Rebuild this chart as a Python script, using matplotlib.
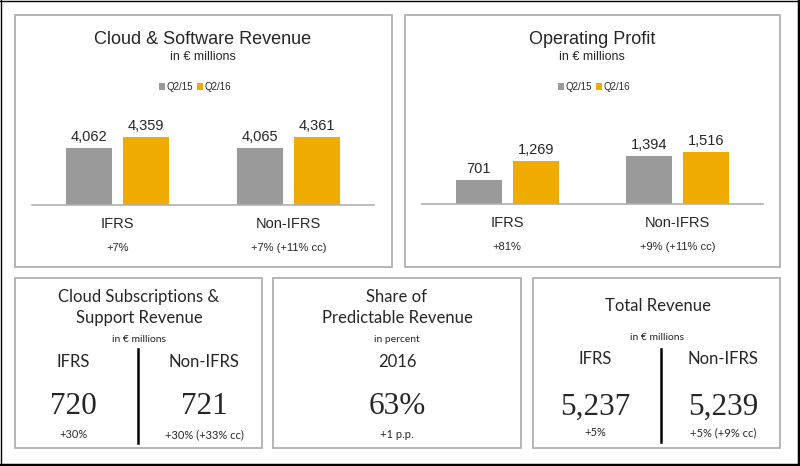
import matplotlib
matplotlib.use("Agg")
import matplotlib.pyplot as plt
from matplotlib.patches import Rectangle
from matplotlib.lines import Line2D

# data
categories = ["IFRS", "Non-IFRS"]
series_names = ["Q2/15", "Q2/16"]
sw_q215 = [4062, 4065]
sw_q216 = [4359, 4361]
sw_growth = ["+7%", "+7% (+11% cc)"]
op_q215 = [701, 1394]
op_q216 = [1269, 1516]
op_growth = ["+81%", "+9% (+11% cc)"]
cloud_vals = ["720", "721"]
cloud_growth = ["+30%", "+30% (+33% cc)"]
share_year = "2016"
share_val = "63%"
share_growth = "+1 p.p."
total_vals = ["5,237", "5,239"]
total_growth = ["+5%", "+5% (+9% cc)"]

GRAY = "#9a9a9a"
GOLD = "#efab00"
BORDER = "#a9a9a9"
TXT = "#262626"
W, H = 800, 466

fig = plt.figure(figsize=(W / 100, H / 100), dpi=100)
fig.patch.set_facecolor("white")


def fx(px):
    return px / W


def fy(py):
    return 1 - py / H


def panel(x0, y0, x1, y1):
    fig.add_artist(Rectangle((fx(x0), fy(y1)), fx(x1) - fx(x0), fy(y0) - fy(y1),
                             transform=fig.transFigure, fill=False,
                             edgecolor=BORDER, linewidth=1.2))


def divider(x, y0, y1):
    fig.add_artist(Line2D([fx(x), fx(x)], [fy(y0), fy(y1)], transform=fig.transFigure,
                          color="black", linewidth=1.8))


# outer frame
fig.add_artist(Line2D([0, 1], [fy(0.5), fy(0.5)], transform=fig.transFigure, color="black", lw=1))
fig.add_artist(Line2D([fx(0.5), fx(0.5)], [0, 1], transform=fig.transFigure, color="black", lw=1))
fig.add_artist(Line2D([0, 1], [fy(464.5), fy(464.5)], transform=fig.transFigure, color="black", lw=2.5))
fig.add_artist(Line2D([fx(798.5), fx(798.5)], [0, 1], transform=fig.transFigure, color="black", lw=2.5))

panel(15, 15, 392, 267)
panel(405, 15, 780, 267)
panel(15, 278, 262, 448)
panel(273, 278, 521, 448)
panel(533, 278, 780, 448)


def bar_chart(left, right, base, top, ymin, ymax, v1, v2, growth, title, cx, lx):
    ax = fig.add_axes([fx(left), fy(base), fx(right) - fx(left), fy(top) - fy(base)])
    x = range(len(categories))
    off = 0.167
    wd = 0.268
    b1 = ax.bar([i - off for i in x], [v - ymin for v in v1], wd, bottom=ymin,
                color=GRAY, label=series_names[0])
    b2 = ax.bar([i + off for i in x], [v - ymin for v in v2], wd, bottom=ymin,
                color=GOLD, label=series_names[1])
    ax.bar_label(b1, labels=[f"{v:,}" for v in v1], padding=3, fontsize=10.5,
                 color=TXT, family="Liberation Sans")
    ax.bar_label(b2, labels=[f"{v:,}" for v in v2], padding=3, fontsize=10.5,
                 color=TXT, family="Liberation Sans")
    ax.set_xlim(-0.5, 1.5)
    ax.set_ylim(ymin, ymax)
    ax.axis("off")
    ax.axhline(ymin, color="#b0b0b0", lw=1.2, clip_on=False)
    for i, (c, g) in enumerate(zip(categories, growth)):
        ax.annotate(c, (i, 0), xycoords=("data", "axes fraction"), xytext=(0, -19),
                    textcoords="offset pixels", ha="center", va="center",
                    fontsize=10.5, color=TXT, family="Liberation Sans")
        ax.annotate(g, (i, 0), xycoords=("data", "axes fraction"), xytext=(0, -43),
                    textcoords="offset pixels", ha="center", va="center",
                    fontsize=8, color=TXT, family="Liberation Sans")
    fig.text(fx(cx), fy(39), title, ha="center", va="center", fontsize=13,
             color=TXT, family="Liberation Sans")
    fig.text(fx(cx), fy(57), "in € millions", ha="center", va="center", fontsize=9,
             color=TXT, family="Liberation Sans")
    ax.legend(handles=[b1, b2], loc="center", bbox_to_anchor=(fx(lx), fy(87)),
              bbox_transform=fig.transFigure, ncol=2, frameon=False,
              handlelength=0.6, handleheight=0.6, handletextpad=0.15,
              columnspacing=0.4, prop={"family": "Liberation Sans", "size": 7},
              labelcolor=TXT)
    return ax


bar_chart(32, 374, 205, 110, 2500, 5100, sw_q215, sw_q216, sw_growth,
          "Cloud & Software Revenue", 203, 195)
bar_chart(422, 763, 204, 110, 0, 2757, op_q215, op_q216, op_growth,
          "Operating Profit", 592, 594)

SANS = "Lato"
SERIF = "Liberation Serif"


def kpi(x, label, value, growth, label_y=362, sub_y=435):
    fig.text(fx(x), fy(label_y), label, ha="center", va="center", fontsize=12,
             color=TXT, family=SANS)
    fig.text(fx(x), fy(407), value, ha="center", va="center", fontsize=22.5,
             color=TXT, family=SERIF)
    fig.text(fx(x), fy(sub_y), growth, ha="center", va="center", fontsize=8,
             color=TXT, family=SANS)


# Cloud Subscriptions & Support Revenue
fig.text(fx(139), fy(297), "Cloud Subscriptions &", ha="center", va="center",
         fontsize=12, color=TXT, family=SANS)
fig.text(fx(139), fy(318), "Support Revenue", ha="center", va="center",
         fontsize=12, color=TXT, family=SANS)
fig.text(fx(139), fy(339), "in € millions", ha="center", va="center",
         fontsize=7.5, color=TXT, family=SANS)
kpi(73, categories[0], cloud_vals[0], cloud_growth[0])
kpi(204, categories[1], cloud_vals[1], cloud_growth[1])
divider(138, 349, 443)

# Share of Predictable Revenue
fig.text(fx(397), fy(297), "Share of", ha="center", va="center",
         fontsize=12, color=TXT, family=SANS)
fig.text(fx(397), fy(318), "Predictable Revenue", ha="center", va="center",
         fontsize=12, color=TXT, family=SANS)
fig.text(fx(397), fy(339), "in percent", ha="center", va="center",
         fontsize=7.5, color=TXT, family=SANS)
kpi(397, share_year, share_val, share_growth)

# Total Revenue
fig.text(fx(658), fy(306), "Total Revenue", ha="center", va="center",
         fontsize=12, color=TXT, family=SANS)
fig.text(fx(657), fy(338), "in € millions", ha="center", va="center",
         fontsize=7.5, color=TXT, family=SANS)
kpi(595, categories[0], total_vals[0], total_growth[0], label_y=359, sub_y=433)
kpi(723, categories[1], total_vals[1], total_growth[1], label_y=359, sub_y=433)
divider(661, 349, 442)

fig.savefig("out.png", dpi=100, facecolor="white")
